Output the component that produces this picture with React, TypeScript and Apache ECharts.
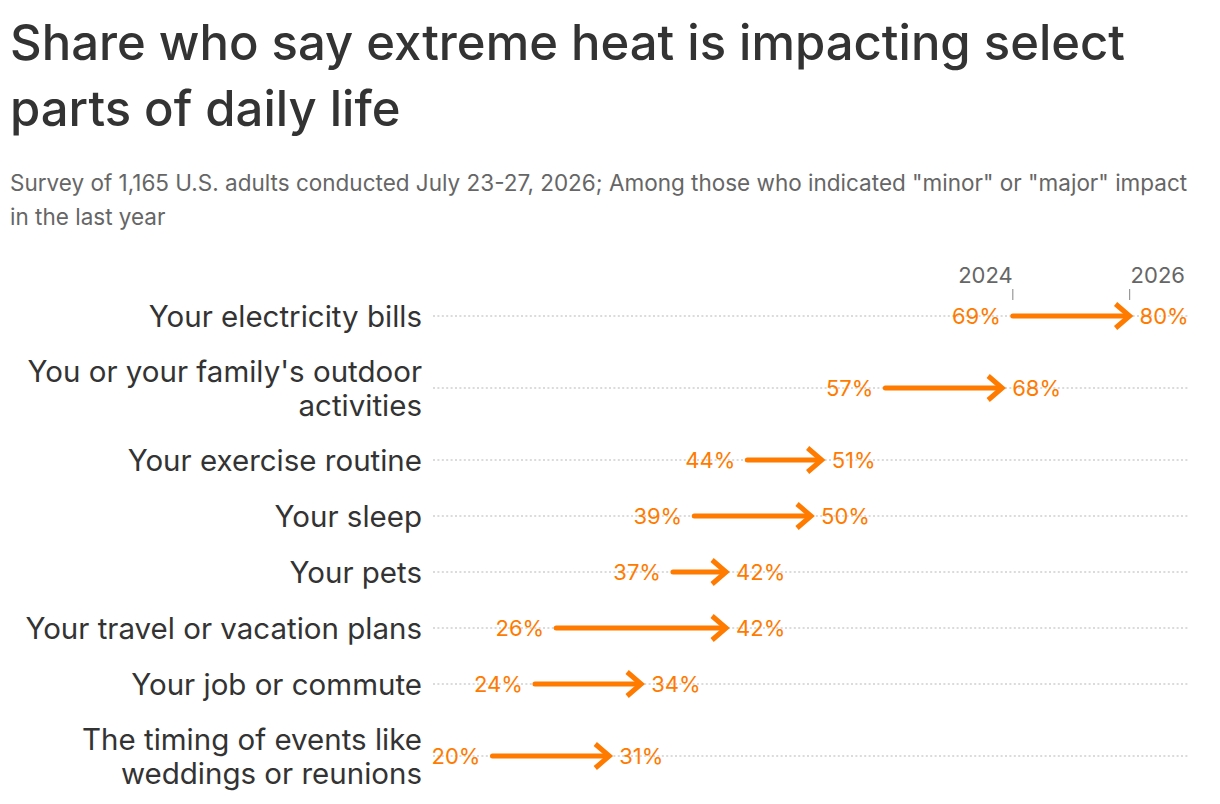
import React, { useEffect, useRef } from 'react';
import * as echarts from 'echarts';

const categories = [
  'Your electricity bills',
  "You or your family's outdoor\nactivities",
  'Your exercise routine',
  'Your sleep',
  'Your pets',
  'Your travel or vacation plans',
  'Your job or commute',
  'The timing of events like\nweddings or reunions',
];
const values2024 = [69, 57, 44, 39, 37, 26, 24, 20];
const values2026 = [80, 68, 51, 50, 42, 42, 34, 31];
const years = ['2024', '2026'];

const ORANGE = '#ff7b00';
const FONT = 'Inter, "Noto Sans", sans-serif';

// each row gets more room when its label wraps onto two lines
const rowHeight = (label: string) => 24 + 32 * label.split('\n').length;
const rowCenters: number[] = [];
let acc = 0;
categories.forEach((c) => {
  const h = rowHeight(c);
  rowCenters.push(acc + h / 2);
  acc += h;
});
const totalHeight = acc;

const App: React.FC = () => {
  const chartRef = useRef<HTMLDivElement>(null);

  useEffect(() => {
    if (!chartRef.current) return;
    const chart = echarts.init(chartRef.current, null, { renderer: 'svg' });

    const renderItem = (params: any, api: any) => {
      const idx = params.dataIndex;
      const cs = params.coordSys;
      const p0 = api.coord([api.value(1), api.value(3)]);
      const p1 = api.coord([api.value(2), api.value(3)]);
      const y = p0[1];
      const children: any[] = [
        {
          type: 'line',
          shape: { x1: cs.x, y1: y, x2: cs.x + cs.width, y2: y },
          style: { stroke: '#cfcfcf', lineWidth: 1.5, lineDash: [2, 2.4] },
          silent: true,
        },
        {
          type: 'text',
          x: cs.x - 11,
          y: y,
          style: {
            text: categories[idx],
            fill: '#333333',
            fontSize: 29.5,
            fontFamily: FONT,
            lineHeight: 34,
            align: 'right',
            verticalAlign: 'middle',
          },
        },
        {
          type: 'line',
          shape: { x1: p0[0], y1: y, x2: p1[0] - 3, y2: y },
          style: { stroke: ORANGE, lineWidth: 5, lineCap: 'round' },
        },
        {
          type: 'polyline',
          shape: {
            points: [
              [p1[0] - 14, y - 12],
              [p1[0], y],
              [p1[0] - 14, y + 12],
            ],
          },
          style: { stroke: ORANGE, lineWidth: 5, lineJoin: 'miter', fill: 'none' },
        },
        {
          type: 'text',
          x: p0[0] - 12,
          y: y,
          style: {
            text: api.value(1) + '%',
            fill: ORANGE,
            fontSize: 22,
            fontFamily: FONT,
            align: 'right',
            verticalAlign: 'middle',
          },
        },
        {
          type: 'text',
          x: p1[0] + 10,
          y: y,
          style: {
            text: api.value(2) + '%',
            fill: ORANGE,
            fontSize: 22,
            fontFamily: FONT,
            align: 'left',
            verticalAlign: 'middle',
          },
        },
      ];
      if (idx === 0) {
        [p0[0], p1[0]].forEach((x, i) => {
          children.push({
            type: 'line',
            shape: { x1: x, y1: y - 27, x2: x, y2: y - 16 },
            style: { stroke: '#999999', lineWidth: 1.2 },
          });
          children.push({
            type: 'text',
            x: i === 0 ? x : x + 1,
            y: y - 41,
            style: {
              text: years[i],
              fill: '#666666',
              fontSize: 22,
              fontFamily: FONT,
              align: i === 0 ? 'right' : 'left',
              verticalAlign: 'middle',
            },
          });
        });
      }
      return { type: 'group', children };
    };

    const option = {
      animation: false,
      backgroundColor: '#ffffff',
      title: {
        text: 'Share who say extreme heat is impacting select\nparts of daily life',
        subtext:
          'Survey of 1,165 U.S. adults conducted July 23-27, 2026; Among those who indicated "minor" or "major" impact\nin the last year',
        left: 10,
        top: 9,
        padding: 0,
        itemGap: 24,
        textStyle: {
          fontFamily: FONT,
          fontSize: 49,
          fontWeight: 500,
          lineHeight: 66,
          color: '#333333',
        },
        subtextStyle: {
          fontFamily: FONT,
          fontSize: 22.5,
          lineHeight: 34,
          color: '#666666',
        },
      },
      grid: { left: 433, right: 32, top: 288, bottom: 4 },
      xAxis: { type: 'value', min: 14.4, max: 85.5, show: false },
      yAxis: { type: 'value', min: 0, max: totalHeight, inverse: true, show: false },
      series: [
        {
          type: 'custom',
          renderItem,
          encode: { x: [1, 2], y: 3 },
          data: categories.map((_, i) => [i, values2024[i], values2026[i], rowCenters[i]]),
        },
      ],
    };

    chart.setOption(option);
    return () => {
      chart.dispose();
    };
  }, []);

  return (
    <div
      ref={chartRef}
      style={{ position: 'fixed', left: 0, top: 0, width: '1220px', height: '804px' }}
    ></div>
  );
};

export default App;
